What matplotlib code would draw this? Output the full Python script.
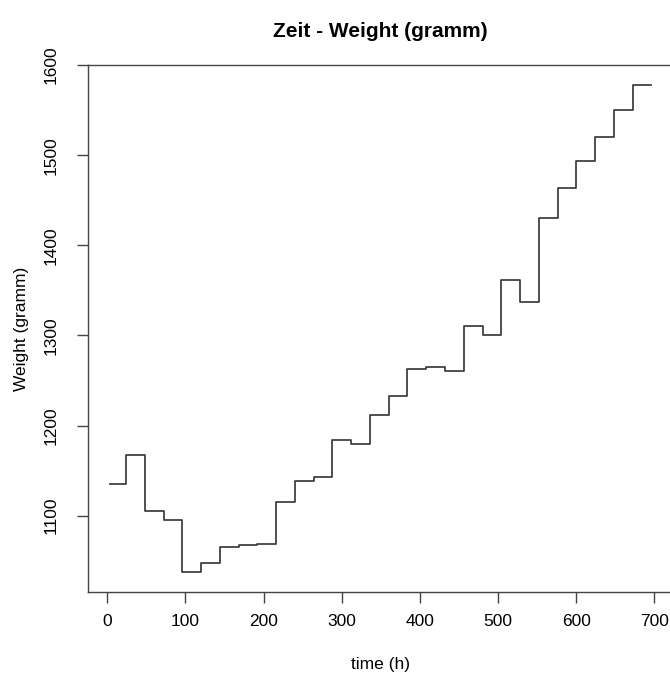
import matplotlib.pyplot as plt

plt.rcParams['font.family'] = ['Liberation Sans', 'DejaVu Sans']

# daily weighing, time in hours
time_h = [3, 24, 48, 72, 96, 120, 144, 168, 192, 216, 240, 264, 288, 312, 336,
          360, 384, 408, 432, 456, 480, 504, 528, 552, 576, 600, 624, 648, 672, 696]
weight = [1135, 1167, 1105, 1095, 1037, 1048, 1065, 1067, 1069, 1115, 1138, 1143,
          1184, 1180, 1212, 1233, 1263, 1265, 1261, 1311, 1301, 1362, 1337, 1430,
          1463, 1494, 1520, 1550, 1578, 1578]
xticks = [0, 100, 200, 300, 400, 500, 600, 700]
yticks = [1100, 1200, 1300, 1400, 1500, 1600]

fig = plt.figure(figsize=(6.7, 6.73), dpi=100)
ax = fig.add_axes([88 / 670, 81 / 673, 585 / 670, 527 / 673])

ax.step(time_h, weight, where='post', color='#3a3a3a', lw=1.25)

# R-style 4% padding around the data
xr = max(time_h) - min(time_h)
yr = max(weight) - min(weight)
ax.set_xlim(min(time_h) - 0.04 * xr, max(time_h) + 0.04 * xr)
ax.set_ylim(min(weight) - 0.04 * yr, max(weight) + 0.04 * yr)

ax.set_xticks(xticks)
ax.set_yticks(yticks)
ax.set_yticklabels([str(v) for v in yticks], rotation=90, va='center')
ax.tick_params(axis='both', length=8, width=1, color='#444444', labelsize=12.5)
ax.tick_params(axis='x', pad=8)
ax.tick_params(axis='y', pad=13)

for s in ax.spines.values():
    s.set_color('#444444')
    s.set_linewidth(1)

ax.set_title('Zeit - Weight (gramm)', fontsize=15, fontweight='bold', pad=20)
ax.set_xlabel('time (h)', fontsize=12.5, labelpad=20)
ax.set_ylabel('Weight (gramm)', fontsize=12.5, labelpad=11)

fig.savefig('out.png', dpi=100)
